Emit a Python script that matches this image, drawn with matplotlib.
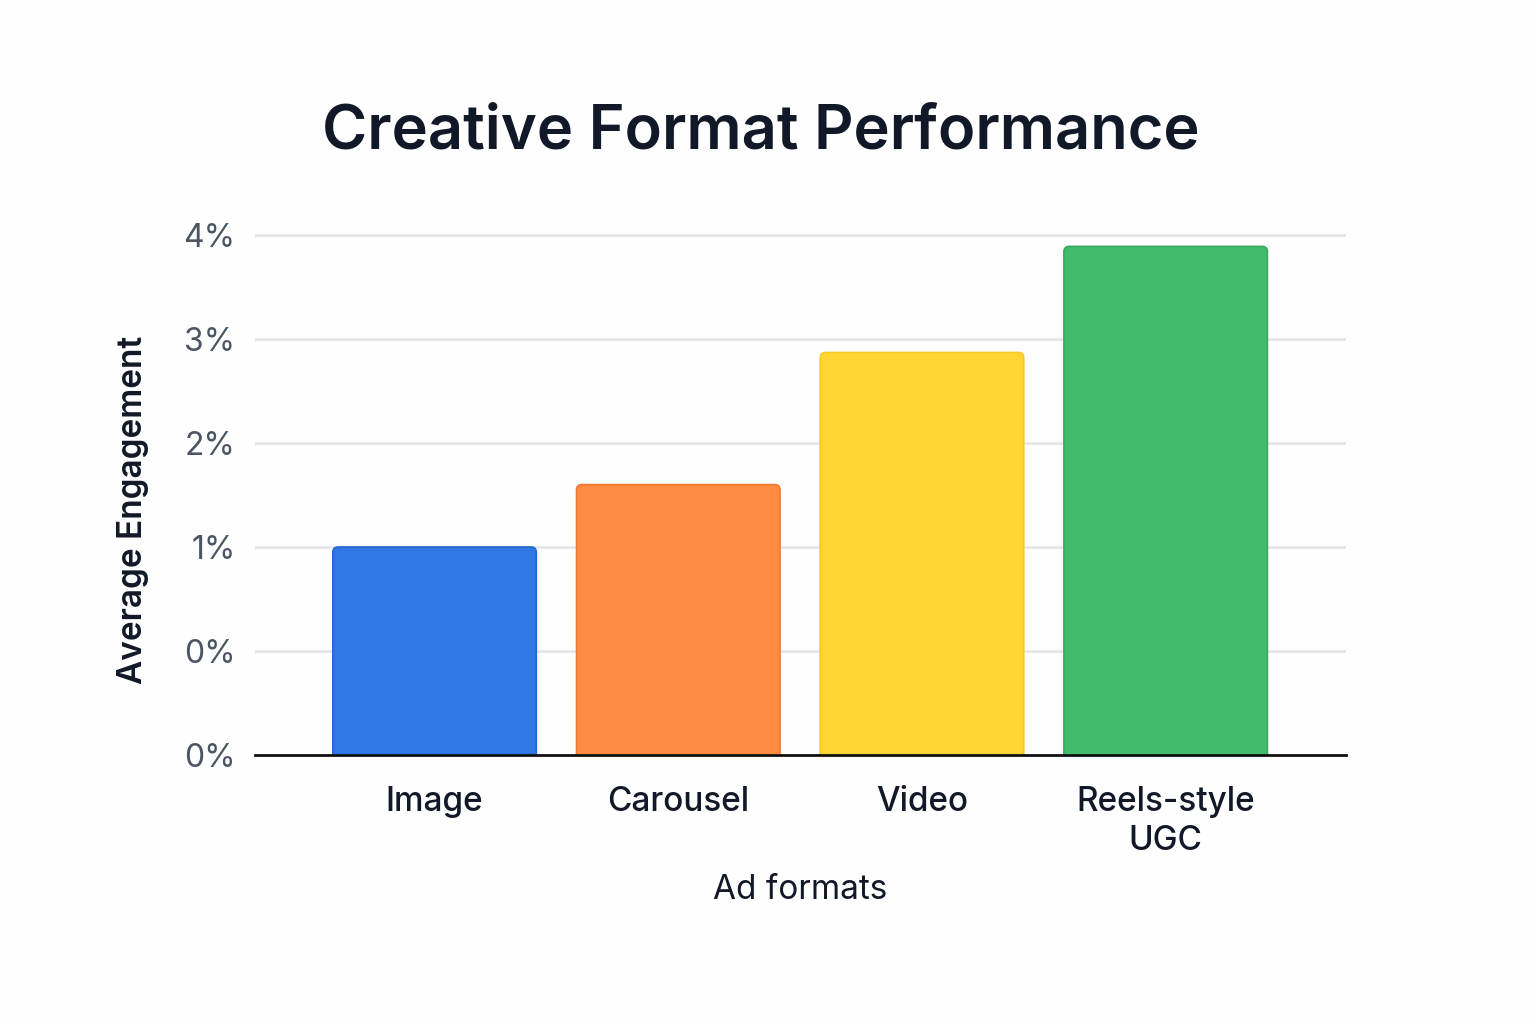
import matplotlib.pyplot as plt
from matplotlib.patches import FancyBboxPatch

formats = ["Image", "Carousel", "Video", "Reels-style\nUGC"]
engagement = [1.0, 1.6, 2.87, 3.89]
bar_colors = ["#2F78E3", "#FF8C42", "#FFD536", "#43BB6C"]
edge_colors = ["#2467CF", "#F07A30", "#F5C823", "#37A95D"]
tick_values = [-1, 0, 1, 2, 3, 4]
tick_labels = ["0%", "0%", "1%", "2%", "3%", "4%"]

plt.rcParams['font.family'] = ['Inter', 'DejaVu Sans']

fig = plt.figure(figsize=(15.36, 10.24), dpi=100, facecolor="#fefefe")
ax = fig.add_axes([0.166, 0.2627, 0.7103, 0.518])
ax.set_facecolor("#fefefe")

base = tick_values[0]
x = list(range(len(formats)))
bars = ax.bar(x, [v - base for v in engagement], bottom=base, width=0.835,
              color=bar_colors, edgecolor=edge_colors, linewidth=1.2, zorder=3)

ax.set_xlim(-0.737, 3.74)
ax.set_ylim(base, 4.1)

# swap plain bars for ones with slightly rounded tops
for b in bars:
    bx, by = b.get_x(), b.get_y()
    bw, bh = b.get_width(), b.get_height()
    r = FancyBboxPatch((bx, by - 0.1), bw, bh + 0.1,
                       boxstyle="round,pad=0,rounding_size=0.022",
                       mutation_aspect=2.34,
                       facecolor=b.get_facecolor(), edgecolor=b.get_edgecolor(),
                       linewidth=1.2, zorder=3)
    b.set_visible(False)
    ax.add_patch(r)

ax.set_yticks(tick_values)
ax.set_yticklabels(tick_labels)
ax.set_xticks(x)
ax.set_xticklabels(formats, fontsize=24, color="#111827", fontweight="medium",
                   linespacing=1.3)
ax.tick_params(axis="y", length=0, pad=14, labelsize=23, labelcolor="#4b5563")
ax.tick_params(axis="x", length=0, pad=22)

ax.grid(axis="y", color="#e5e7eb", linewidth=2, zorder=0)
for s in ["top", "right", "left"]:
    ax.spines[s].set_visible(False)
ax.spines["bottom"].set_color("#111111")
ax.spines["bottom"].set_linewidth(2)
ax.spines["bottom"].set_zorder(4)

ax.set_xlabel("Ad formats", fontsize=24, color="#111827", labelpad=12)
ax.set_ylabel("Average Engagement", fontsize=24, color="#111827",
              fontweight="semibold")
ax.yaxis.set_label_coords(-0.112, 0.462)
ax.yaxis.label.set_verticalalignment("center")

fig.text(0.495, 0.871, "Creative Format Performance", ha="center", va="center",
         fontsize=44.2, fontweight="semibold", color="#111827")

fig.savefig("out.png", dpi=100, facecolor=fig.get_facecolor())
